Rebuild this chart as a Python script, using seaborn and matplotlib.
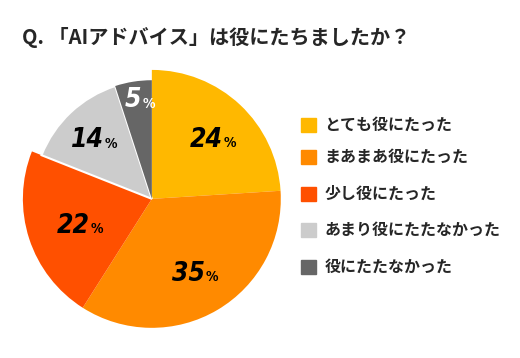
import numpy as np
import seaborn as sns
import matplotlib.pyplot as plt

sns.set_theme(style="white")
plt.rcParams['font.family'] = ['Noto Sans CJK JP', 'DejaVu Sans']

# data
categories = ["とても役にたった", "まあまあ役にたった", "少し役にたった",
              "あまり役にたたなかった", "役にたたなかった"]
shares = [24, 35, 22, 14, 5]
colors = ["#FFB800", "#FF8A00", "#FF5000", "#CCCCCC", "#666666"]
label_colors = ["black", "black", "black", "black", "white"]
title = "Q. 「AIアドバイス」は役にたちましたか？"

fig = plt.figure(figsize=(5.2, 3.58), dpi=100)
ax = fig.add_axes([0.044, 0.084, 0.496, 0.721])

wedges, _ = ax.pie(shares, colors=colors, startangle=90, counterclock=False,
                   radius=1.0, wedgeprops=dict(linewidth=0))
# gray slices are drawn a little smaller
for w in wedges[3:]:
    w.set_radius(0.92)
wedges[3].set_edgecolor("white")
wedges[3].set_linewidth(1.5)
ax.set_xlim(-1, 1)
ax.set_ylim(-1, 1)
ax.set_aspect("equal")

# value labels (radius, angle shift from wedge middle)
label_r = [0.685, 0.66, 0.57, 0.64, 0.80]
label_shift = [-2.3, 1.4, 1.2, -1.2, 1]
for w, v, r, s, c in zip(wedges, shares, label_r, label_shift, label_colors):
    ang = np.deg2rad((w.theta1 + w.theta2) / 2 + s)
    x, y = r * np.cos(ang), r * np.sin(ang) - 0.02
    ax.text(x + 0.06, y, str(v), ha="right", va="center", fontsize=19,
            fontweight="bold", fontstyle="oblique", fontstretch="condensed",
            family="DejaVu Sans", color=c)
    ax.text(x + 0.065, y - 0.03, "%", ha="left", va="center", fontsize=10,
            fontweight="bold", fontstretch="condensed",
            family="DejaVu Sans", color=c)

# title
fig.text(0.042, 0.895, title, fontsize=14.5, fontweight="bold", va="center", ha="left")

# legend
row_y = [0.651, 0.561, 0.458, 0.358, 0.254]
for cat, col, yy in zip(categories, colors, row_y):
    fig.patches.append(plt.Rectangle((0.578, yy - 0.020), 0.029, 0.040,
                                     transform=fig.transFigure, color=col))
    fig.text(0.624, yy, cat, fontsize=11.5, fontweight="bold", va="center", ha="left")

fig.savefig("out.png", dpi=100)
